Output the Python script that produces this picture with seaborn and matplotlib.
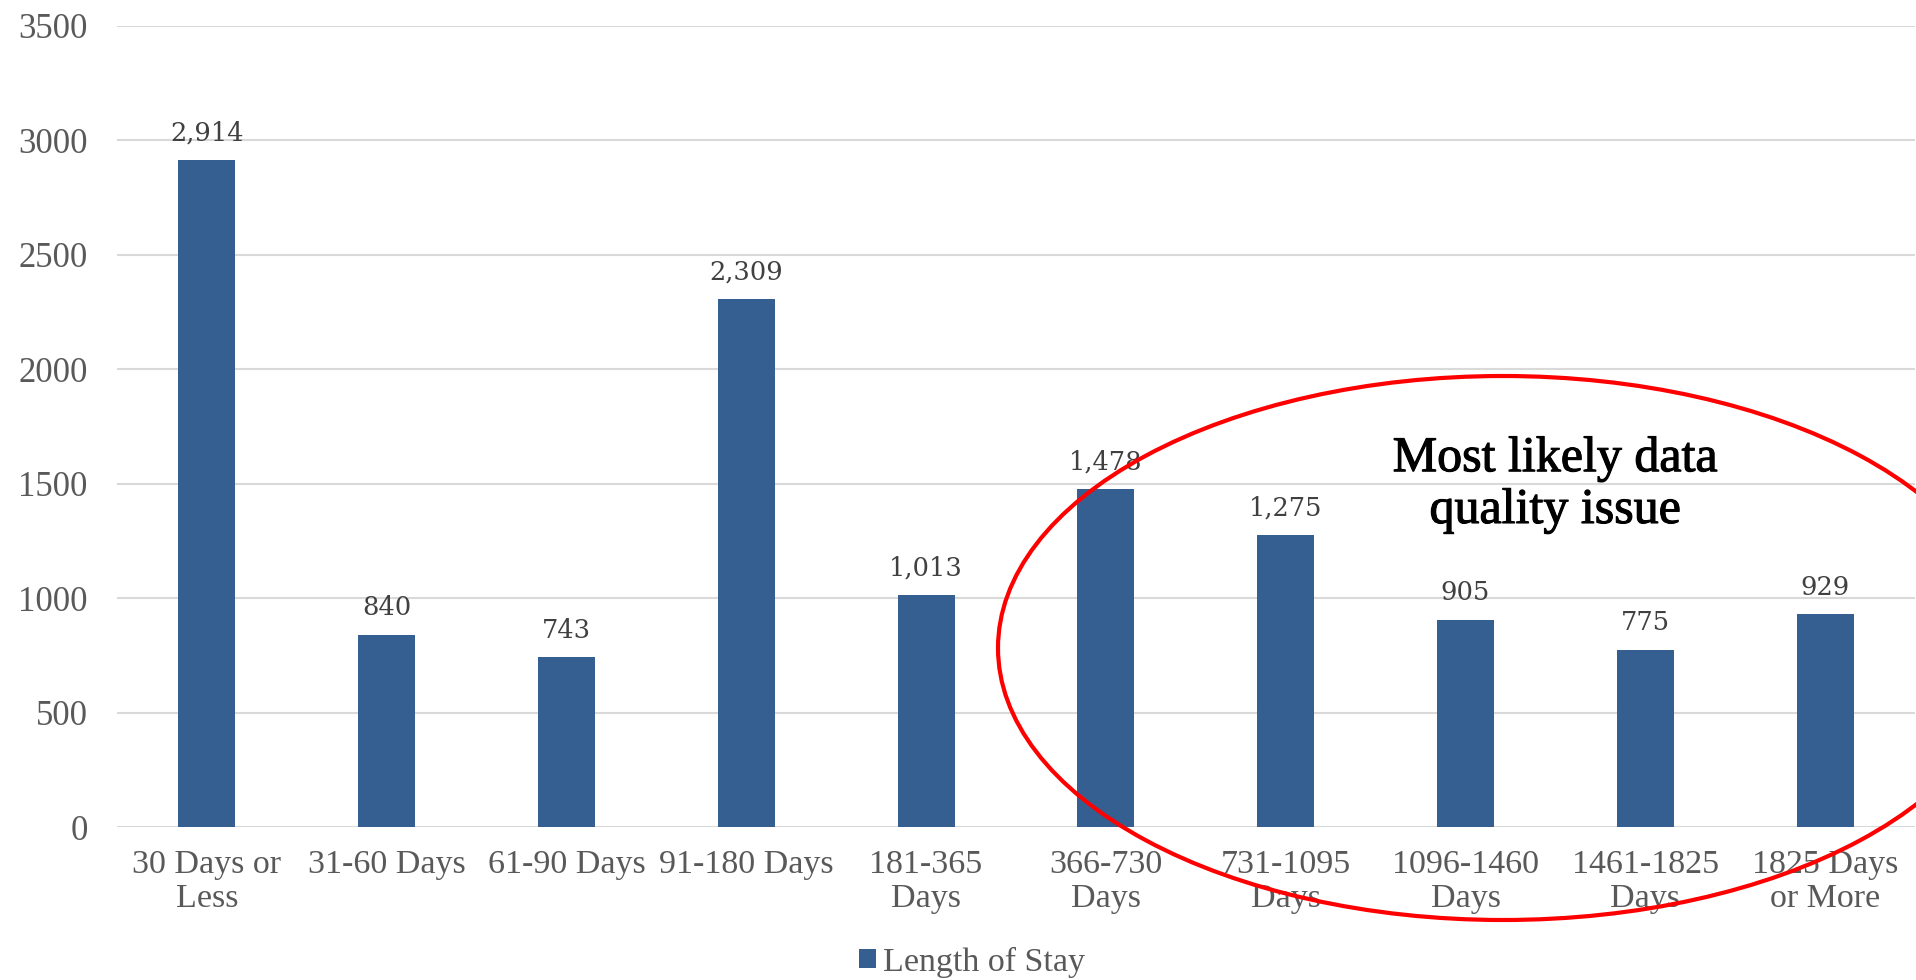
import matplotlib
matplotlib.use("Agg")
import matplotlib.pyplot as plt
import matplotlib.patheffects as pe
import seaborn as sns
import pandas as pd
from matplotlib.patches import Ellipse

# Length-of-stay buckets and record counts
categories = [
    "30 Days or\nLess", "31-60 Days", "61-90 Days", "91-180 Days",
    "181-365\nDays", "366-730\nDays", "731-1095\nDays", "1096-1460\nDays",
    "1461-1825\nDays", "1825 Days\nor More",
]
counts = [2914, 840, 743, 2309, 1013, 1478, 1275, 905, 775, 929]
y_ticks = [0, 500, 1000, 1500, 2000, 2500, 3000, 3500]
series_name = "Length of Stay"
note = "Most likely data\nquality issue"

BAR = "#365F91"
GRID = "#D9D9D9"
TICK = "#595959"

sns.set_style("white")
plt.rcParams["font.family"] = ["Liberation Serif", "DejaVu Serif"]

W, H = 1916, 980
fig = plt.figure(figsize=(W / 100, H / 100), dpi=100)
ax = fig.add_axes([117 / W, 1 - 827 / H, (1915 - 117) / W, (827 - 26) / H])

df = pd.DataFrame({"stay": categories, "count": counts})
sns.barplot(data=df, x="stay", y="count", color=BAR, saturation=1,
            width=0.317, linewidth=0, label=series_name, ax=ax)

ax.set_xlim(-0.5, len(categories) - 0.5)
ax.set_ylim(0, 3500)
ax.set_yticks(y_ticks)
ax.set_yticklabels([str(t) for t in y_ticks])
ax.grid(axis="y", color=GRID, linewidth=1.5)
ax.grid(axis="x", visible=False)
ax.set_axisbelow(True)
for s in ax.spines.values():
    s.set_visible(False)
ax.set_xlabel("")
ax.set_ylabel("")
ax.tick_params(axis="y", length=0, pad=21, labelsize=25, labelcolor=TICK)
ax.tick_params(axis="x", length=0, pad=16, labelsize=24.5, labelcolor=TICK)
for lab in ax.get_xticklabels():
    lab.set_multialignment("center")
    lab.set_linespacing(1.15)

# value labels above each bar
for i, v in enumerate(counts):
    ax.annotate(f"{v:,}", (i, v), xytext=(0, 14), textcoords="offset points",
                ha="center", va="baseline", fontfamily="DejaVu Serif",
                fontsize=18.5, color="#404040")

ax.legend(loc="center", bbox_to_anchor=(972 / W, 1 - 962 / H),
          bbox_transform=fig.transFigure, frameon=False, fontsize=24.5,
          handlelength=0.5, handleheight=0.5, handletextpad=0.2,
          labelcolor=TICK)

# callout ring and note
ring = Ellipse((1503 / W, 1 - 648 / H), 1010 / W, 544 / H,
               transform=fig.transFigure, fill=False, edgecolor="#FF0000",
               linewidth=3, zorder=10, clip_on=False)
fig.add_artist(ring)
fig.text(1555 / W, 1 - 523 / H, note, ha="center", va="baseline",
         fontsize=36, color="black", linespacing=1.15, zorder=11,
         path_effects=[pe.withStroke(linewidth=0.8, foreground="black")])

fig.savefig("out.png", dpi=100)
